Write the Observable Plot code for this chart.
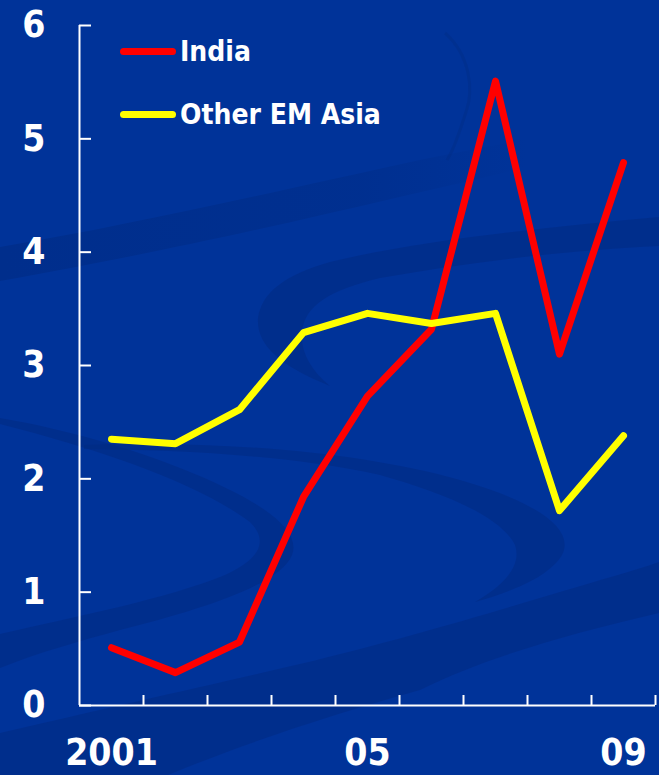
<!DOCTYPE html>
<html>
<head>
<meta charset="utf-8">
<script src="https://cdn.jsdelivr.net/npm/d3@7"></script>
<script src="https://cdn.jsdelivr.net/npm/@observablehq/plot@0.6"></script>
<style>
  html, body { margin: 0; padding: 0; background: #003399; }
  #stage { position: relative; width: 659px; height: 775px; overflow: hidden; background: #003399; }
  #swooshes { position: absolute; left: 0; top: 0; }
  #chart { position: absolute; left: 0; top: 0; }
  .legend { position: absolute; left: 120px; top: 32px; font-family: "DejaVu Sans Condensed", "DejaVu Sans", sans-serif; font-weight: bold; font-size: 28px; color: #fff; }
  .legend .item { display: flex; align-items: center; height: 38px; margin-bottom: 25px; }
  .legend .swatch { width: 56px; height: 7px; border-radius: 4px; margin-right: 4px; }
</style>
</head>
<body>
<div id="stage">
  <svg id="swooshes" width="659" height="775" viewBox="0 0 659 775">
    <defs>
      <linearGradient id="fadeRight" x1="0" x2="1" y1="0" y2="0">
        <stop offset="0" stop-color="#00297f" stop-opacity="0.5"/>
        <stop offset="0.55" stop-color="#00297f" stop-opacity="0.35"/>
        <stop offset="0.8" stop-color="#00297f" stop-opacity="0"/>
      </linearGradient>
    </defs>
    <!-- faint band rising from the left edge -->
    <path d="M0,247 C130,225 260,195 420,160 C520,140 600,125 659,112 L659,135 C560,160 430,190 300,220 C180,247 90,265 0,281 Z" fill="url(#fadeRight)"/>
    <g fill="#00297f" fill-opacity="0.5">
      <!-- band from the right edge curling back -->
      <path d="M659,217 C540,228 420,240 330,262 C285,275 262,292 258,318 C256,345 280,366 330,386 C310,370 300,350 302,332 C305,305 330,290 380,278 C470,262 570,250 659,246 Z"/>
      <!-- left crescent with its thin tail -->
      <path d="M0,418 C70,430 160,455 230,490 C275,512 300,535 292,555 C280,585 200,610 120,630 C80,641 40,652 0,668 L0,634 C70,618 170,598 225,575 C262,558 268,540 250,522 C200,485 110,452 0,424 Z"/>
      <!-- right crescent -->
      <path d="M84,445 C220,440 360,452 460,480 C540,503 575,530 562,555 C548,578 510,592 475,602 C505,585 522,565 515,545 C500,515 440,492 380,475 C290,455 180,450 84,449 Z"/>
      <!-- bottom rising band -->
      <path d="M0,733 C120,705 210,685 300,664 C400,640 500,610 560,592 C600,580 630,572 659,562 L659,613 C560,636 480,660 420,690 C330,715 240,745 168,775 L0,775 Z"/>
    </g>
    <!-- faint arc near the top -->
    <path d="M445,33 C470,55 474,90 466,112 C460,130 455,148 447,160" fill="none" stroke="#002a82" stroke-opacity="0.35" stroke-width="3"/>
  </svg>
  <div id="chart"></div>
  <div class="legend" id="legend"></div>
</div>
<script>
// Annual values, 2001 to 2009
const years = [2001, 2002, 2003, 2004, 2005, 2006, 2007, 2008, 2009];
const india = [0.51, 0.29, 0.56, 1.84, 2.73, 3.32, 5.51, 3.10, 4.79];
const otherEMAsia = [2.35, 2.31, 2.61, 3.29, 3.46, 3.37, 3.46, 1.72, 2.38];

const seriesNames = ["India", "Other EM Asia"];
const seriesColors = ["#ff0000", "#ffff00"];

const yTicks = [0, 1, 2, 3, 4, 5, 6];
const xLabelYears = [2001, 2005, 2009];
const xLabelText = ["2001", "05", "09"];

// Long-format table for the line marks
const rows = [
  ...years.map((year, i) => ({year, value: india[i], series: seriesNames[0]})),
  ...years.map((year, i) => ({year, value: otherEMAsia[i], series: seriesNames[1]}))
];

// Year boundaries carry the tick marks; labels sit at year centres
const yearEdges = years.map(y => y + 0.5);
const labelOf = new Map(xLabelYears.map((y, i) => [y, xLabelText[i]]));

const chart = Plot.plot({
  width: 659,
  height: 775,
  marginLeft: 79,
  marginRight: 4,
  marginTop: 25,
  marginBottom: 70,
  style: {background: "transparent", color: "#fff", fontFamily: "'DejaVu Sans Condensed', 'DejaVu Sans', sans-serif", fontWeight: "bold", overflow: "visible"},
  x: {domain: [years[0] - 0.5, years[years.length - 1] + 0.5], axis: null, label: null},
  y: {domain: [0, 6], axis: null, label: null},
  color: {domain: seriesNames, range: seriesColors},
  marks: [
    // y tick marks pointing into the plot
    Plot.axisY(yTicks, {anchor: "left", tickSize: -12, fill: "none", stroke: "#fff", strokeWidth: 2, label: null}),
    Plot.axisY(yTicks, {anchor: "left", tickSize: 0, tickPadding: 34, fontSize: 37, fill: "#fff", tickFormat: d => String(d), label: null}),
    // x tick marks at year boundaries pointing up
    Plot.axisX(yearEdges, {anchor: "bottom", tickSize: -10, fill: "none", stroke: "#fff", strokeWidth: 2, label: null}),
    Plot.axisX(xLabelYears, {anchor: "bottom", tickSize: 0, tickPadding: 33, fontSize: 37, fill: "#fff", tickFormat: d => labelOf.get(d), label: null}),
    Plot.ruleX([years[0] - 0.5], {stroke: "#fff", strokeWidth: 2}),
    Plot.ruleY([0], {stroke: "#fff", strokeWidth: 2}),
    Plot.lineY(rows, {x: "year", y: "value", z: "series", stroke: "series", strokeWidth: 7, strokeLinecap: "round", strokeLinejoin: "round"})
  ]
});
document.getElementById("chart").appendChild(chart);

// Legend
const legend = document.getElementById("legend");
seriesNames.forEach((name, i) => {
  const item = document.createElement("div");
  item.className = "item";
  const sw = document.createElement("span");
  sw.className = "swatch";
  sw.style.background = seriesColors[i];
  const label = document.createElement("span");
  label.textContent = name;
  item.appendChild(sw);
  item.appendChild(label);
  legend.appendChild(item);
});
</script>
</body>
</html>
